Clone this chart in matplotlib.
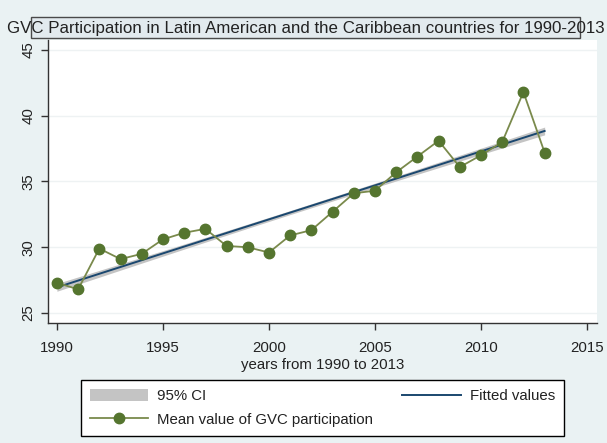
import numpy as np
import matplotlib.pyplot as plt
from matplotlib.patches import Rectangle, Patch
from matplotlib.lines import Line2D

# Daten
years = np.arange(1990, 2014)
gvc_mean = [27.3, 26.8, 29.9, 29.1, 29.5, 30.6, 31.1, 31.4, 30.1, 30.0, 29.6, 30.9,
            31.3, 32.7, 34.1, 34.3, 35.7, 36.9, 38.1, 36.1, 37.0, 38.0, 41.8, 37.2]
xticks = [1990, 1995, 2000, 2005, 2010, 2015]
yticks = [25, 30, 35, 40, 45]

title = "GVC Participation in Latin American and the Caribbean countries for 1990-2013"
xlabel = "years from 1990 to 2013"

bg = "#EAF2F3"
green = "#55752F"
green_line = "#7A8A4C"
navy = "#1A476F"
ci_gray = "#C4C4C4"

plt.rcParams['font.family'] = ['Liberation Sans', 'DejaVu Sans']

# lineare Regression + 95% CI
y = np.array(gvc_mean)
x = years.astype(float)
b, a = np.polyfit(x, y, 1)
fit = a + b * x
n = len(x)
resid = y - fit
s = np.sqrt(np.sum(resid ** 2) / (n - 2))
t_val = 2.074  # t(22, 0.975)
se = s * np.sqrt(1.0 / n + (x - x.mean()) ** 2 / np.sum((x - x.mean()) ** 2))
se = se * 0.25  # Fit im Original auf gepoolten Länderdaten -> viel schmaleres CI
lo = fit - t_val * se
hi = fit + t_val * se

fig = plt.figure(figsize=(6.07, 4.43), dpi=100, facecolor=bg)
ax = fig.add_axes([48 / 607, 1 - 323 / 443, 549 / 607, 283 / 443])
ax.set_facecolor("white")

for yt in yticks:
    ax.axhline(yt, color="#EEF2F3", lw=1.0, zorder=0)

ax.fill_between(x, lo, hi, color=ci_gray, lw=0, zorder=1)
ax.plot(x, fit, color=navy, lw=1.4, zorder=2)
ax.plot(x, y, color=green_line, lw=1.3, marker="o", ms=7.5,
        mfc=green, mec=green, zorder=3)

ax.set_xlim(1989.58, 2015.47)
ax.set_ylim(24.24, 45.76)
ax.set_xticks(xticks)
ax.set_yticks(yticks)
ax.set_yticklabels([str(v) for v in yticks], rotation=90, va="center")
ax.tick_params(axis="both", direction="out", length=5, width=1, color="#333333",
               labelsize=10.8, labelcolor="#222222", pad=4)
ax.tick_params(axis="x", pad=8)

for side in ["top", "right"]:
    ax.spines[side].set_visible(False)
for side in ["left", "bottom"]:
    ax.spines[side].set_color("#333333")
    ax.spines[side].set_linewidth(1.0)

ax.set_xlabel(xlabel, fontsize=10.8, color="#222222", labelpad=2)

# Titel + Rahmen
fig.add_artist(Rectangle((31 / 607, 1 - 38 / 443), (580 - 31) / 607, 21 / 443,
                         transform=fig.transFigure, facecolor="#E2EAEE",
                         edgecolor="#4A4A4A", lw=1.0, zorder=0))
fig.text(306 / 607, 1 - 29 / 443, title, ha="center", va="center",
         fontsize=12.2, color="#222222", zorder=2)

# Legende
handles = [Patch(facecolor=ci_gray, edgecolor="none"),
           Line2D([0], [0], color=green_line, lw=1.3, marker="o", ms=7.5,
                  mfc=green, mec=green),
           Line2D([0], [0], color=navy, lw=1.4)]
labels = ["95% CI", "Mean value of GVC participation", "Fitted values"]
leg = fig.legend(handles, labels, ncol=2, loc="upper left",
                 bbox_to_anchor=(80.5 / 607, 0, (564 - 80.5) / 607, 1 - 380 / 443),
                 mode="expand", borderaxespad=0, fancybox=False, framealpha=1,
                 edgecolor="black", fontsize=10.8, handlelength=3.9,
                 handletextpad=0.6, borderpad=0.6, labelspacing=0.6,
                 handleheight=0.9)
leg.get_frame().set_linewidth(1.0)
for t in leg.get_texts():
    t.set_color("#222222")

fig.savefig("out.png", dpi=100, facecolor=bg)
